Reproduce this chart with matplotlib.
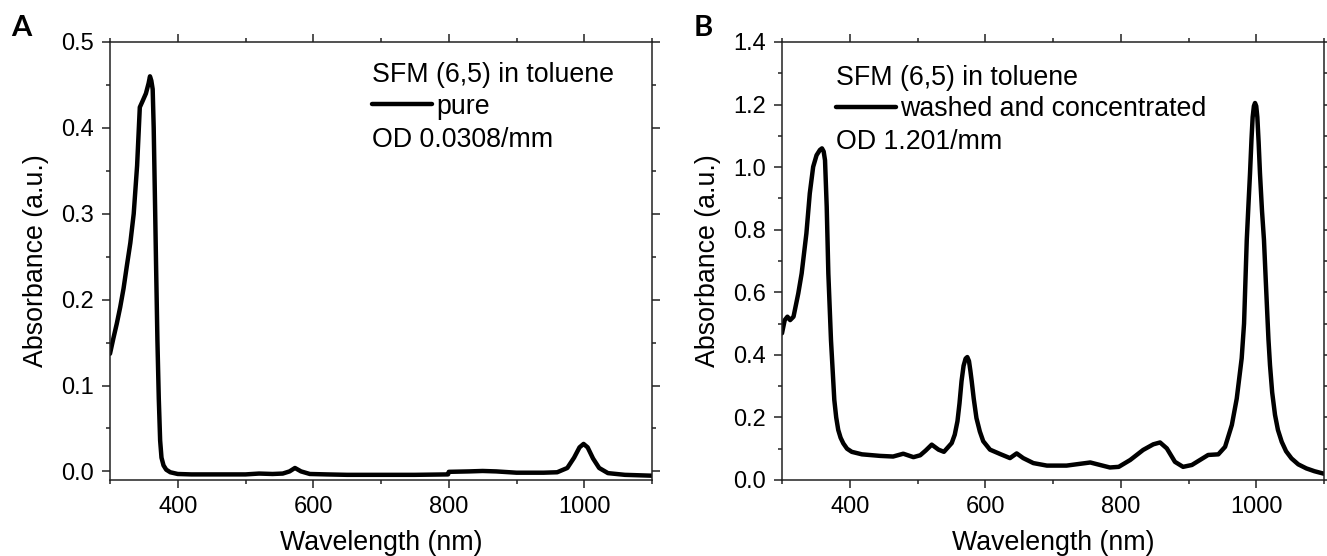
# plot.py
# Deux spectres d'absorption SFM (6,5) dans le toluène, panneaux A et B.

import matplotlib
matplotlib.use("Agg")
import matplotlib.pyplot as plt
from matplotlib.ticker import MultipleLocator, FormatStrFormatter

# ---------- Données ----------
# A : pure, OD 0.0308/mm
wl_a = [300, 305, 310, 315, 320, 325, 330, 335, 340, 344, 348, 353, 357, 359,
        361, 363, 364.5, 366.5, 368, 370, 372, 374, 376, 379, 383, 389, 400,
        420, 450, 500, 520, 540, 555, 565, 573, 582, 595, 620, 650, 700, 750,
        799, 800, 830, 850, 870, 900, 940, 960, 975, 985, 993, 999, 1005,
        1013, 1022, 1035, 1060, 1100]
abs_a = [0.137, 0.155, 0.172, 0.191, 0.213, 0.24, 0.266, 0.30, 0.356, 0.424,
         0.431, 0.44, 0.452, 0.46, 0.455, 0.445, 0.40, 0.31, 0.24, 0.152,
         0.085, 0.036, 0.016, 0.007, 0.002, -0.001, -0.003, -0.0035, -0.0035,
         -0.0035, -0.0025, -0.003, -0.0025, 0.0, 0.004, 0.0, -0.003, -0.0035,
         -0.004, -0.004, -0.004, -0.0035, -0.0005, 0.0, 0.0005, 0.0, -0.0015,
         -0.0015, -0.001, 0.004, 0.016, 0.028, 0.032, 0.028, 0.015, 0.004,
         -0.002, -0.004, -0.005]

# B : lavé et concentré, OD 1.201/mm
wl_b = [300, 304, 308, 312, 317, 324, 329, 336, 341, 346, 351, 356, 359,
        361.5, 363.5, 366, 368.4, 372.3, 377.2, 380, 383, 386.5, 390.5, 396,
        403, 418, 445, 464, 479, 494, 504, 512, 521, 531, 539, 550.5, 555, 559,
        562, 565, 568, 571, 573.5, 576, 578, 580, 583, 587, 592, 597, 607, 622,
        636.5, 646.4, 656, 671, 691, 720, 755, 764, 784, 797, 814, 833, 848,
        858, 868, 880, 892, 905, 917, 929, 944, 954, 964, 971.2, 978.5, 982,
        986, 988.5, 990.8, 993, 994.7, 996.5, 998.2, 1000, 1001.6, 1003.5,
        1005.5, 1008.5, 1011.4, 1014, 1016.3, 1018, 1020.3, 1023.5, 1027.7,
        1032, 1037.6, 1044, 1052, 1062, 1074, 1086, 1100]
abs_b = [0.469, 0.511, 0.522, 0.511, 0.522, 0.596, 0.66, 0.788, 0.916, 1.001,
         1.038, 1.055, 1.06, 1.05, 1.022, 0.873, 0.66, 0.447, 0.256, 0.20,
         0.16, 0.135, 0.117, 0.10, 0.09, 0.082, 0.077, 0.075, 0.084, 0.073,
         0.079, 0.094, 0.113, 0.097, 0.09, 0.118, 0.145, 0.188, 0.245, 0.316,
         0.365, 0.388, 0.393, 0.38, 0.35, 0.316, 0.26, 0.198, 0.155, 0.124,
         0.097, 0.083, 0.07, 0.085, 0.07, 0.054, 0.046, 0.046, 0.056, 0.051,
         0.040, 0.042, 0.064, 0.096, 0.114, 0.12, 0.101, 0.058, 0.042, 0.048,
         0.064, 0.08, 0.082, 0.106, 0.176, 0.26, 0.389, 0.50, 0.767, 0.88,
         0.98, 1.09, 1.16, 1.195, 1.205, 1.195, 1.16, 1.08, 0.98, 0.86, 0.767,
         0.64, 0.53, 0.45, 0.367, 0.28, 0.208, 0.16, 0.122, 0.092, 0.069,
         0.05, 0.037, 0.028, 0.02]

PANELS = [
    dict(letter="A", x=wl_a, y=abs_a, label="pure", od="OD 0.0308/mm",
         ylim=(-0.01, 0.5), ymaj=0.1, ymin=0.05,
         txt_x=0.483, base1=0.908, leg_y=0.852, base2=0.760),
    dict(letter="B", x=wl_b, y=abs_b, label="washed and concentrated",
         od="OD 1.201/mm", ylim=(0.0, 1.4), ymaj=0.2, ymin=0.1,
         txt_x=0.099, base1=0.902, leg_y=0.846, base2=0.756),
]

plt.rcParams["font.family"] = ["Liberation Sans", "DejaVu Sans"]
FS_TXT = 19.3

fig = plt.figure(figsize=(13.27, 5.56), dpi=100)
lefts = [110 / 1327, 782 / 1327]
letter_x = [21 / 1327, 703 / 1327]

for p, left, lx in zip(PANELS, lefts, letter_x):
    ax = fig.add_axes([left, 0.1367, 542 / 1327, 0.7878])
    ax.plot(p["x"], p["y"], color="black", lw=3.2, label=p["label"],
            solid_capstyle="round", solid_joinstyle="round")
    ax.set_xlim(300, 1100)
    ax.set_ylim(*p["ylim"])
    ax.xaxis.set_major_locator(MultipleLocator(200))
    ax.xaxis.set_minor_locator(MultipleLocator(100))
    ax.yaxis.set_major_locator(MultipleLocator(p["ymaj"]))
    ax.yaxis.set_minor_locator(MultipleLocator(p["ymin"]))
    ax.yaxis.set_major_formatter(FormatStrFormatter("%.1f"))
    ax.tick_params(which="both", direction="out", top=True, right=True,
                   width=1.1, labelsize=17, color="#222222")
    ax.tick_params(which="major", length=5.8, pad=5.5)
    ax.tick_params(which="minor", length=2.9)
    for s in ax.spines.values():
        s.set_linewidth(1.1)
        s.set_color("#222222")
    ax.set_xlabel("Wavelength (nm)", fontsize=FS_TXT, labelpad=9)
    ax.set_ylabel("Absorbance (a.u.)", fontsize=FS_TXT, labelpad=9)

    ax.text(p["txt_x"], p["base1"], "SFM (6,5) in toluene", transform=ax.transAxes,
            fontsize=FS_TXT, va="baseline", ha="left")
    ax.text(p["txt_x"], p["base2"], p["od"], transform=ax.transAxes,
            fontsize=FS_TXT, va="baseline", ha="left")
    ax.legend(loc="center left", bbox_to_anchor=(p["txt_x"], p["leg_y"]),
              frameon=False, fontsize=FS_TXT, handlelength=2.24,
              handletextpad=0.15, borderpad=0, borderaxespad=0)

    fig.text(lx, 1 - 28 / 556, p["letter"], fontsize=21, fontweight="bold",
             family="Lato", ha="center", va="center")

fig.savefig("out.png", dpi=100)
